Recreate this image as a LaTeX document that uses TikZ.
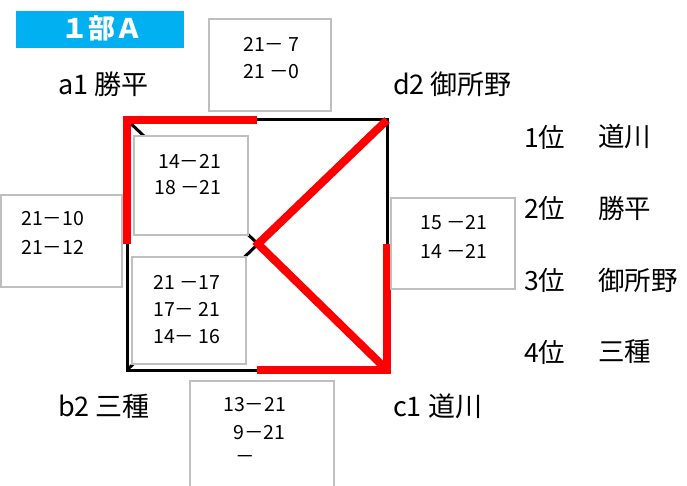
\documentclass[tikz,border=0pt]{standalone}
\usepackage{fontspec}
\setmainfont{Noto Sans CJK JP}
\usetikzlibrary{calc}
\definecolor{titlecyan}{RGB}{0,176,240}
\definecolor{boxgray}{RGB}{191,191,191}
\definecolor{winred}{RGB}{255,0,0}
\begin{document}
\begin{tikzpicture}[x=1pt,y=-1pt,
  scorebox/.style={draw=boxgray,line width=1.8pt,fill=white,inner sep=0pt},
  score/.style={font=\fontsize{19.5}{19.5}\selectfont,anchor=west,inner sep=0pt},
  team/.style={font=\fontsize{27}{27}\selectfont,anchor=west,inner sep=0pt},
  rank/.style={font=\fontsize{26.5}{26.5}\selectfont,anchor=west,inner sep=0pt},
  edgeline/.style={line width=3pt,black},
  winline/.style={line width=8pt,winred,line join=miter},
]
\fill[white] (0,0) rectangle (687,486);
\useasboundingbox (0,0) rectangle (687,486);

% title
\node[fill=titlecyan,minimum width=168pt,minimum height=37pt,inner sep=0pt] (title) at (100,29.5) {};
\node[text=white,font=\fontsize{27}{27}\selectfont\bfseries,inner sep=0pt] (titletext) at (101.5,28.5) {１部Ａ};

% corners
\coordinate (A) at (127,120);
\coordinate (D) at (387,120);
\coordinate (C) at (387,370);
\coordinate (B) at (127,370);
\coordinate (O) at (258,244);
\coordinate (Tm) at ($(A)!0.5!(D)$);
\coordinate (Lm) at (127,244);
\coordinate (Rm) at (387,244);
\coordinate (Bm) at ($(B)!0.5!(C)$);

% black square and diagonals
\draw[edgeline] (A) -- (D) -- (C) -- (B) -- cycle;
\draw[edgeline] (A) -- (O) -- (C);
\draw[edgeline] (D) -- (O) -- (B);

% red winning lines
\draw[winline] (Tm) -- (A) -- (Lm);
\draw[winline] (Rm) -- (C) -- (Bm);
\draw[winline] (D) -- (O) -- (C);

% score boxes
\node[scorebox,minimum width=122pt,minimum height=92pt] (bad) at (270,65) {};
\node[scorebox,minimum width=114pt,minimum height=99pt] (bac) at (191,185.5) {};
\node[scorebox,minimum width=121pt,minimum height=92pt] (bab) at (61.5,241) {};
\node[scorebox,minimum width=114pt,minimum height=107pt] (bbd) at (189,310.5) {};
\node[scorebox,minimum width=124pt,minimum height=91pt] (bdc) at (453,243.5) {};
\node[scorebox,minimum width=144pt,minimum height=130pt] (bbc) at (262,446) {};

% scores
\node[score] (ad1) at (243,44) {21－ 7};
\node[score] (ad2) at (243,72) {21 －0};
\node[score] (ac1) at (158,161) {14－21};
\node[score] (ac2) at (154,188) {18 －21};
\node[score] (ab1) at (21,219) {21－10};
\node[score] (ab2) at (21,247) {21－12};
\node[score] (bd1) at (153,282) {21 －17};
\node[score] (bd2) at (153,309) {17－ 21};
\node[score] (bd3) at (153,337) {14－ 16};
\node[score] (dc1) at (420,223) {15 －21};
\node[score] (dc2) at (420,251) {14 －21};
\node[score] (bc1) at (223,405) {13－21};
\node[score] (bc2) at (233,433) {9－21};
\node[score] (bc3) at (235,459) {－};

% team labels
\node[team] (ta) at (58,84) {a1 勝平};
\node[team] (td) at (393,84) {d2 御所野};
\node[team] (tb) at (58,406) {b2 三種};
\node[team] (tc) at (393,406) {c1 道川};

% ranking
\node[rank] (r1) at (524,137) {1位};
\node[rank] (n1) at (598,137) {道川};
\node[rank] (r2) at (524,208) {2位};
\node[rank] (n2) at (598,208) {勝平};
\node[rank] (r3) at (524,280) {3位};
\node[rank] (n3) at (598,280) {御所野};
\node[rank] (r4) at (524,352) {4位};
\node[rank] (n4) at (598,352) {三種};
\end{tikzpicture}
\end{document}
